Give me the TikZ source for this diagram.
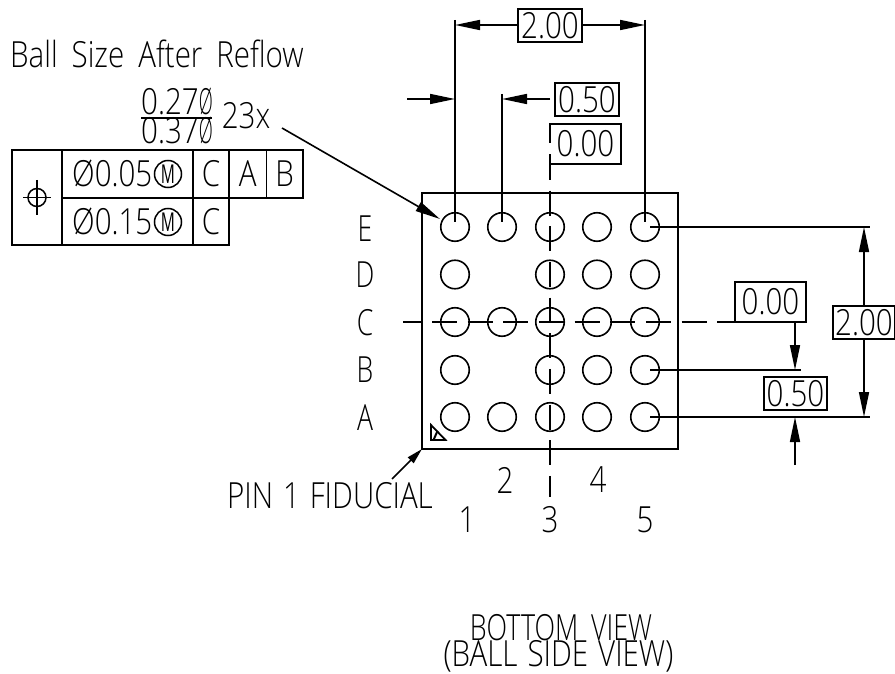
\documentclass[tikz,border=0pt]{standalone}
\usepackage{fontspec}
\usepackage{graphicx}
\setmainfont[FakeStretch=0.82]{Open Sans Light}
\newfontfamily\mfont{Open Sans}
\usetikzlibrary{arrows.meta}
\newcommand{\wg}{\hspace{14pt}}
\newcommand{\pg}{\hspace{10pt}}
\newcommand{\nslash}{\scalebox{0.62}[1]{Ø}}
\tikzset{
 ln/.style={line width=1.6pt},
 ctr/.style={line width=2pt,dash pattern=on 25pt off 10.65pt},
 ctrs/.style={line width=2pt},
 arr/.style={-{Triangle[length=25pt,width=10pt]},line width=1.6pt},
 arrs/.style={-{Triangle[length=16pt,width=8pt]},line width=1.6pt},
 tx/.style={inner sep=0pt,font=\fontsize{36}{36}\selectfont},
 val/.style={draw,fill=white,line width=1.6pt,inner sep=0pt,font=\fontsize{36}{36}\selectfont},
 ball/.style={draw,circle,line width=1.6pt,minimum size=28.5pt,inner sep=0pt},
 mcirc/.style={draw,circle,line width=1.5pt,minimum size=27pt,inner sep=0pt,font=\mfont\fontsize{26}{26}\selectfont},
 cell/.style={draw,line width=1.6pt,inner sep=0pt,font=\fontsize{36}{36}\selectfont},
}
\begin{document}
\begin{tikzpicture}[x=1pt,y=-1pt]
\useasboundingbox (0,0) rectangle (895,674);
% free coordinates
\coordinate (tl) at (422,193);
\coordinate (br) at (678,449);
\coordinate (hA) at (403,322);
\coordinate (hB) at (421,322);
\coordinate (hC) at (432,322);
\coordinate (hD) at (735,322);
\coordinate (vA) at (550,124);
\coordinate (vB) at (550,143);
\coordinate (vC) at (550,155);
\coordinate (vD) at (550,497);
% package outline
\draw[ln] (tl) rectangle (br);
% balls
\foreach \n/\x in {1/455,2/502,3/550,4/597,5/645}{
  \node[ball] (E\n) at (\x,227) {};
  \node[ball] (C\n) at (\x,322) {};
  \node[ball] (A\n) at (\x,417) {};
}
\foreach \n/\x in {1/455,3/550,4/597,5/645}{
  \node[ball] (D\n) at (\x,274.5) {};
  \node[ball] (B\n) at (\x,370) {};
}
% centre lines
\draw[ctrs] (hA) -- (hB);
\draw[ctr] (hC) -- (hD);
% value boxes
\node[val,minimum width=64pt,minimum height=33pt] (top200) at (550,25.5) {2.00};
\node[val,minimum width=64pt,minimum height=33pt] (top050) at (587,99.5) {0.50};
\node[val,minimum width=71pt,minimum height=40pt] (top000) at (585.5,144) {0.00};
\node[val,minimum width=71pt,minimum height=40pt] (rt000) at (770.5,302) {0.00};
\node[val,minimum width=63pt,minimum height=33pt] (rt050) at (795.5,393.5) {0.50};
\node[val,minimum width=62pt,minimum height=33pt] (rt200) at (864,322.5) {2.00};
\draw[ctrs,white,line width=3pt] (550,143.5) -- (550,154.5);
\draw[ctrs] (vA) -- (vB);
\draw[ctr] (vC) -- (vD);
% extension lines
\coordinate (x1t) at (455,20); \coordinate (x1b) at (455,222);
\coordinate (x2t) at (502,94); \coordinate (x2b) at (502,222);
\coordinate (x5t) at (645,20); \coordinate (x5b) at (645,222);
\coordinate (y1a) at (650,227); \coordinate (y1b) at (870,227);
\coordinate (y2a) at (650,370); \coordinate (y2b) at (801,370);
\coordinate (y3a) at (650,417); \coordinate (y3b) at (870,417);
\draw[ln] (x1t) -- (x1b);
\draw[ln] (x2t) -- (x2b);
\draw[ln] (x5t) -- (x5b);
\draw[ln] (y1a) -- (y1b);
\draw[ln] (y2a) -- (y2b);
\draw[ln] (y3a) -- (y3b);
% dimension arrows
\coordinate (d1) at (455,25); \coordinate (d5) at (645,25);
\coordinate (lA) at (407,99); \coordinate (lB) at (455,99);
\coordinate (d2) at (502,99);
\coordinate (dr1) at (864,227); \coordinate (dr3) at (864,417);
\coordinate (ra) at (795,322); \coordinate (rb) at (795,370);
\coordinate (rc) at (795,465); \coordinate (rd) at (795,417);
\draw[arr] (top200.west |- d1) -- (d1);
\draw[arr] (top200.east |- d5) -- (d5);
\draw[arr] (lA) -- (lB);
\draw[arr] (top050.west |- d2) ++(-4,0) -- (d2);
\draw[arr] (rt200.north -| dr1) -- (dr1);
\draw[arr] (rt200.south -| dr3) -- (dr3);
\draw[arr] (ra) -- (rb);
\draw[arr] (rc) -- (rd);
% row and column labels
\foreach \t/\y in {E/229,D/275,C/323,B/370,A/418}{\node[tx] (row\t) at (365,\y) {\scalebox{0.9}[1]{\t}};}
\foreach \t/\x/\y in {1/467/520,2/505/480,3/550/520,4/598/480,5/645/520}{\node[tx] (col\t) at (\x,\y) {\t};}
% fiducial
\node[tx] (pin) at (330,496) {PIN\pg 1\pg FIDUCIAL};
\coordinate (pinA) at (392,479);
\draw[arrs] (pinA) -- (tl |- br);
\draw[line width=1.8pt] (431,425) -- (431,440) -- (445.5,440) -- cycle;
\draw[line width=2pt] (437.5,431) -- (433.5,440);
% title
\node[tx] (reflow) at (157,54) {Ball\wg Size\wg After\wg Reflow};
\node[tx,anchor=base west] (d27) at (141,115) {0.27\nslash};
\node[tx,anchor=base west] (d37) at (141,144) {0.37\nslash};
\coordinate (ua) at (141,118); \coordinate (ub) at (212,118);
\draw[ln] (ua) -- (ub);
\node[tx] (n23) at (246,116) {23x};
\coordinate (leadA) at (282,128);
\draw[arr] (leadA) -- (E1.west |- 0,219) ;
% feature control frame
\node[cell,minimum width=50pt,minimum height=95pt] (sym) at (37,197.5) {};
\node[cell,minimum width=131pt,minimum height=48pt] (c105) at (127.5,174) {};
\node[cell,minimum width=131pt,minimum height=47pt] (c115) at (127.5,221.5) {};
\node[cell,minimum width=36pt,minimum height=48pt] (c1c) at (211,174) {C};
\node[cell,minimum width=37.5pt,minimum height=48pt] (c1a) at (247.75,174) {A};
\node[cell,minimum width=36.5pt,minimum height=48pt] (c1b) at (284.75,174) {B};
\node[cell,minimum width=36pt,minimum height=47pt] (c2c) at (211,221.5) {C};
\node[tx,anchor=base west] (t105) at (72,187) {Ø0.05};
\node[tx,anchor=base west] (t115) at (72,234) {Ø0.15};
\node[mcirc] (m1) at (168,174) {\scalebox{0.6}[1]{M}};
\node[mcirc] (m2) at (168,222) {\scalebox{0.6}[1]{M}};
\node[draw,circle,line width=1.5pt,minimum size=18pt,inner sep=0pt] (phi) at (37,197.5) {};
\coordinate (pa) at (23,197.5); \coordinate (pb) at (51,197.5);
\coordinate (pc) at (37,180); \coordinate (pd) at (37,215);
\draw[ln] (pa) -- (pb);
\draw[ln] (pc) -- (pd);
% caption
\node[tx,anchor=base] (cap1) at (561,640.5) {\scalebox{0.91}[1]{BOTTOM\wg VIEW}};
\node[tx,anchor=base] (cap2) at (558.5,666) {(BALL\pg SIDE\pg VIEW)};
\end{tikzpicture}
\end{document}
